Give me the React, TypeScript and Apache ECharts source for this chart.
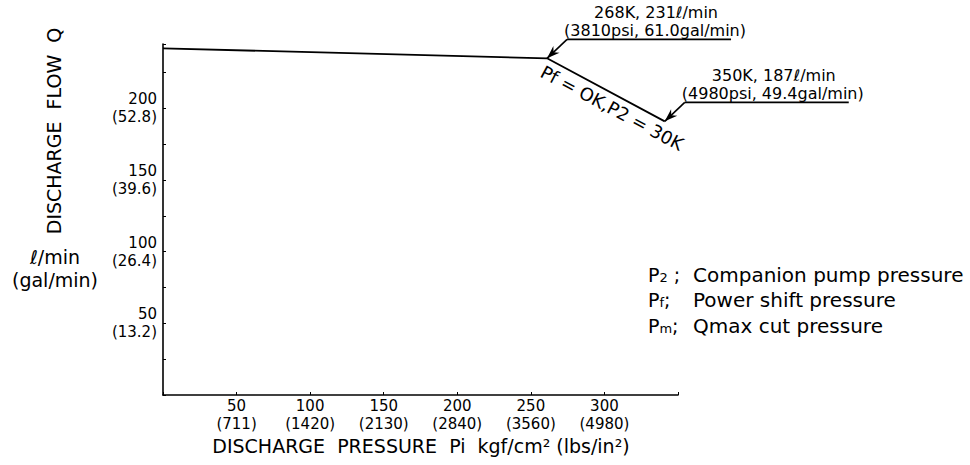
import React, { useEffect, useRef } from 'react';
import * as echarts from 'echarts';

// Curve points: discharge pressure (kgf/cm²) and discharge flow (ℓ/min)
const pressure = [0, 261, 341];
const flow = [242, 235, 191];

// Axis tick labels
const xTickKgf = [50, 100, 150, 200, 250, 300];
const xTickPsi = ['711', '1420', '2130', '2840', '3560', '4980'];
const yTickLmin = [50, 100, 150, 200];
const yTickGal = ['13.2', '26.4', '39.6', '52.8'];

// Point annotations (index into the curve points)
const annotPoint = [1, 2];
const annotLine1 = ['268K, 231ℓ/min', '350K, 187ℓ/min'];
const annotLine2 = ['(3810psi, 61.0gal/min)', '(4980psi, 49.4gal/min)'];

const segmentLabel = 'Pf = OK,P2 = 30K';

// Legend notes
const notePrefix = [
  [{ t: 'P', s: 'p' }, { t: '2', s: 'sub' }, { t: ' ;', s: 'p' }],
  [{ t: 'P', s: 'p' }, { t: 'f', s: 'sub' }, { t: ';', s: 'p' }],
  [{ t: 'P', s: 'p' }, { t: 'm', s: 'sub' }, { t: ';', s: 'p' }],
];
const noteText = ['Companion pump pressure', 'Power shift pressure', 'Qmax cut pressure'];

const FONT = "'DejaVu Sans', 'Noto Sans', sans-serif";

export default function App() {
  const ref = useRef<HTMLDivElement>(null);

  useEffect(() => {
    document.body.style.margin = '0';
    const chart = echarts.init(ref.current as HTMLDivElement, null, { renderer: 'svg' });

    chart.setOption({
      animation: false,
      backgroundColor: '#fff',
      grid: { left: 163, right: 292, top: 44, bottom: 70 },
      xAxis: {
        type: 'value',
        min: 0,
        max: 350,
        interval: 50,
        axisLine: { show: true, onZero: false, lineStyle: { color: '#000', width: 1.6 } },
        axisTick: { show: true, inside: true, length: 3, lineStyle: { color: '#000', width: 1 } },
        splitLine: { show: false },
        axisLabel: {
          color: '#000',
          fontFamily: FONT,
          fontSize: 15,
          lineHeight: 18,
          margin: 2,
          formatter: (v: number) => {
            const i = xTickKgf.indexOf(v);
            return i >= 0 ? `${xTickKgf[i]}\n(${xTickPsi[i]})` : '';
          },
        },
      },
      yAxis: {
        type: 'value',
        min: 0,
        max: 245,
        interval: 25,
        axisLine: { show: true, onZero: false, lineStyle: { color: '#000', width: 1.6 } },
        axisTick: { show: true, inside: true, length: 3, lineStyle: { color: '#000', width: 1 } },
        splitLine: { show: false },
        axisLabel: {
          color: '#000',
          fontFamily: FONT,
          fontSize: 15,
          lineHeight: 18,
          margin: 6,
          align: 'right',
          formatter: (v: number) => {
            const i = yTickLmin.indexOf(v);
            return i >= 0 ? `${yTickLmin[i]}\n(${yTickGal[i]})` : '';
          },
        },
      },
      series: [
        {
          type: 'line',
          data: pressure.map((p, i) => [p, flow[i]]),
          symbol: 'none',
          lineStyle: { color: '#000', width: 1.8 },
        },
      ],
    });

    const toPx = (i: number) =>
      chart.convertToPixel({ gridIndex: 0 }, [pressure[i], flow[i]]) as number[];

    const elements: any[] = [];

    // Axis titles
    elements.push({
      type: 'text',
      x: 54,
      y: 131,
      rotation: Math.PI / 2,
      style: {
        text: 'DISCHARGE  FLOW  Q',
        fontFamily: FONT,
        fontSize: 19,
        fill: '#000',
        align: 'center',
        verticalAlign: 'middle',
      },
    });
    elements.push({
      type: 'text',
      x: 55,
      y: 257,
      style: { text: 'ℓ/min', fontFamily: FONT, fontSize: 19, fill: '#000', align: 'center', verticalAlign: 'middle' },
    });
    elements.push({
      type: 'text',
      x: 55,
      y: 280,
      style: { text: '(gal/min)', fontFamily: FONT, fontSize: 19, fill: '#000', align: 'center', verticalAlign: 'middle' },
    });
    elements.push({
      type: 'text',
      x: 421,
      y: 446,
      style: {
        text: 'DISCHARGE  PRESSURE  Pi  kgf/cm² (lbs/in²)',
        fontFamily: FONT,
        fontSize: 19,
        fill: '#000',
        align: 'center',
        verticalAlign: 'middle',
      },
    });

    // Point annotations with leader arrows
    annotPoint.forEach((pi, k) => {
      const [tx, ty] = toPx(pi);
      const sx = tx + 20;
      const sy = ty - 19;
      const ex = tx + 184;
      elements.push({
        type: 'line',
        shape: { x1: sx, y1: sy, x2: ex, y2: sy },
        style: { stroke: '#000', lineWidth: 1.6 },
      });
      elements.push({
        type: 'line',
        shape: { x1: sx, y1: sy, x2: tx, y2: ty },
        style: { stroke: '#000', lineWidth: 1.6 },
      });
      const dx = tx - sx;
      const dy = ty - sy;
      const len = Math.hypot(dx, dy);
      const ux = dx / len;
      const uy = dy / len;
      const L = 13;
      const W = 4.5;
      const bx = tx - ux * L;
      const by = ty - uy * L;
      const nx = bx + ux * 4;
      const ny = by + uy * 4;
      elements.push({
        type: 'polygon',
        shape: {
          points: [
            [tx, ty],
            [bx - uy * W, by + ux * W],
            [nx, ny],
            [bx + uy * W, by - ux * W],
          ],
        },
        style: { fill: '#000' },
      });
      elements.push({
        type: 'text',
        x: tx + 109,
        y: ty - 46,
        style: { text: annotLine1[k], fontFamily: FONT, fontSize: 16, fill: '#000', align: 'center', verticalAlign: 'middle' },
      });
      elements.push({
        type: 'text',
        x: tx + 108,
        y: ty - 28,
        style: { text: annotLine2[k], fontFamily: FONT, fontSize: 16, fill: '#000', align: 'center', verticalAlign: 'middle' },
      });
    });

    // Rotated label along the sloped segment
    {
      const [ax, ay] = toPx(1);
      const [bx, by] = toPx(2);
      const dx = bx - ax;
      const dy = by - ay;
      const len = Math.hypot(dx, dy);
      const ux = dx / len;
      const uy = dy / len;
      const mx = (ax + bx) / 2 + ux * 14 - uy * 13;
      const my = (ay + by) / 2 + uy * 14 + ux * 13;
      elements.push({
        type: 'text',
        x: mx,
        y: my,
        rotation: -Math.atan2(dy, dx),
        style: { text: segmentLabel, fontFamily: FONT, fontSize: 18, fill: '#000', align: 'center', verticalAlign: 'middle' },
      });
    }

    // Legend notes
    const noteY = [275, 300, 326];
    noteText.forEach((t, i) => {
      const prefix = notePrefix[i].map((p) => `{${p.s}|${p.t}}`).join('');
      elements.push({
        type: 'text',
        x: 648,
        y: noteY[i],
        style: {
          text: prefix,
          fontFamily: FONT,
          fill: '#000',
          align: 'left',
          verticalAlign: 'middle',
          rich: {
            p: { fontSize: 19, fontFamily: FONT, fill: '#000' },
            sub: { fontSize: 13, fontFamily: FONT, fill: '#000', padding: [4, 0, 0, 0] },
          },
        },
      });
      elements.push({
        type: 'text',
        x: 693,
        y: noteY[i],
        style: { text: t, fontFamily: FONT, fontSize: 20, fill: '#000', align: 'left', verticalAlign: 'middle' },
      });
    });

    chart.setOption({ graphic: elements });

    return () => chart.dispose();
  }, []);

  return (
    <div
      ref={ref}
      style={{ position: 'fixed', left: 0, top: 0, width: 970, height: 465, background: '#fff' }}
    />
  );
}
